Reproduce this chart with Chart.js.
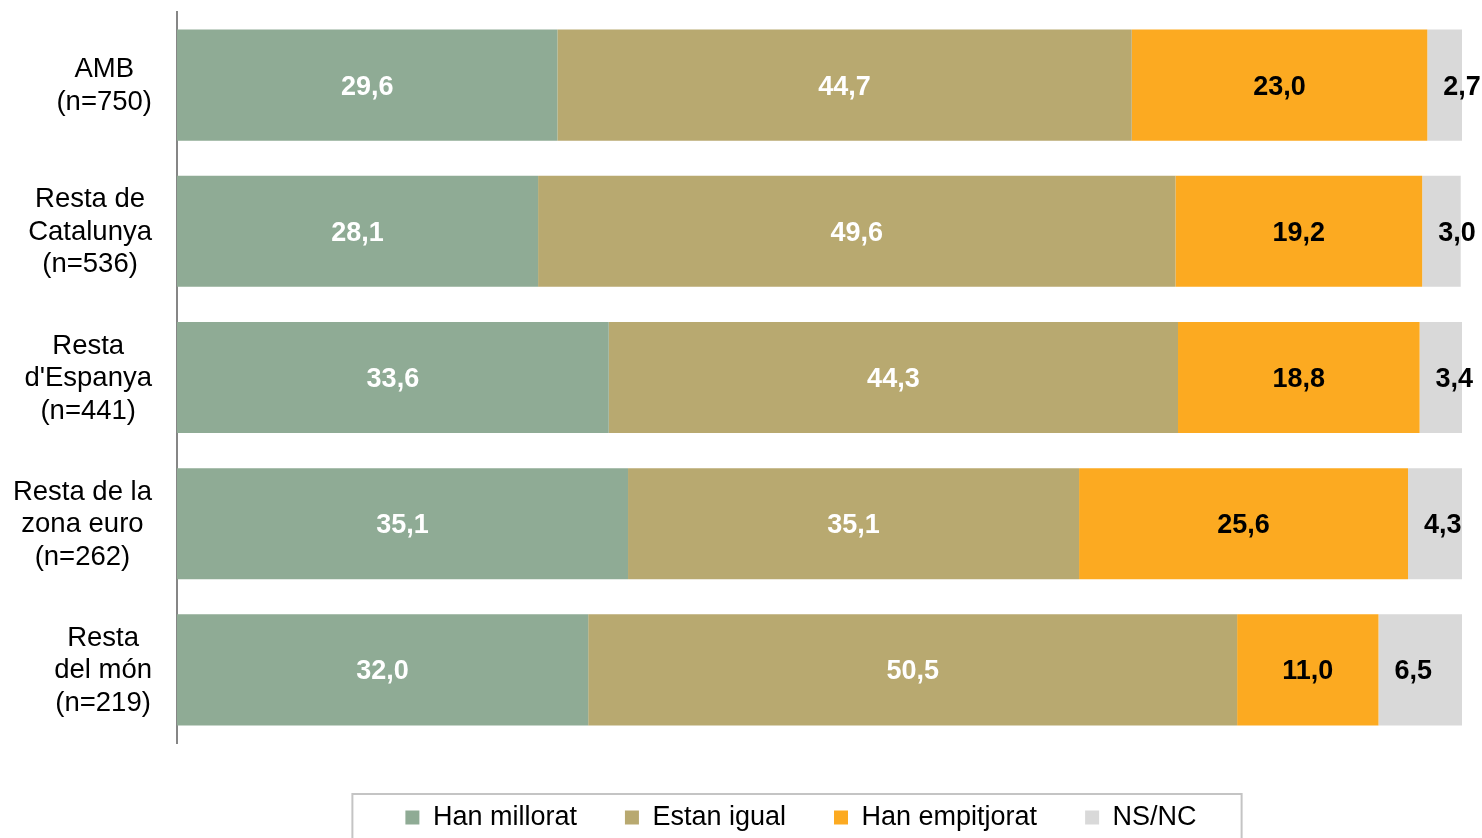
<!DOCTYPE html>
<html>
<head>
<meta charset="utf-8">
<script src="https://cdn.jsdelivr.net/npm/chart.js@4"></script>
<style>
html, body { margin: 0; padding: 0; background: #fff; }
</style>
</head>
<body>
<canvas id="barChart" width="1482" height="838"></canvas>
<script>
const barChart = document.getElementById('barChart');

const categories = [
	['AMB', '(n=750)'],
	['Resta de', 'Catalunya', '(n=536)'],
	['Resta', "d'Espanya", '(n=441)'],
	['Resta de la', 'zona euro', '(n=262)'],
	['Resta', 'del món', '(n=219)'],
];
const seriesNames = ['Han millorat', 'Estan igual', 'Han empitjorat', 'NS/NC'];
const hanMillorat = [29.6, 28.1, 33.6, 35.1, 32.0];
const estanIgual = [44.7, 49.6, 44.3, 35.1, 50.5];
const hanEmpitjorat = [23.0, 19.2, 18.8, 25.6, 11.0];
const nsnc = [2.7, 3.0, 3.4, 4.3, 6.5];

const colors = ['#8FAB95', '#B8A970', '#FCAA21', '#D9D9D9'];
const labelColors = ['#fff', '#fff', '#000', '#000'];
const fontFamily = "'Liberation Sans', Arial, sans-serif";

const fmt = (v) => v.toFixed(1).replace('.', ',');

// category labels: block right-aligned, lines centered inside the block
const categoryLabels = {
	id: 'categoryLabels',
	afterDraw(chart) {
		const ctx = chart.ctx;
		const yScale = chart.scales.y;
		ctx.save();
		ctx.font = '27.5px ' + fontFamily;
		ctx.fillStyle = '#000';
		ctx.textAlign = 'center';
		ctx.textBaseline = 'middle';
		const lineH = 32.5;
		categories.forEach((lines, i) => {
			const y = yScale.getPixelForValue(i) + 1;
			const maxW = Math.max(...lines.map((l) => ctx.measureText(l).width));
			const cx = 152 - maxW / 2;
			lines.forEach((l, j) => {
				ctx.fillText(l, cx, y + (j - (lines.length - 1) / 2) * lineH);
			});
		});
		ctx.restore();
	},
};

// values inside the segments
const valueLabels = {
	id: 'valueLabels',
	afterDatasetsDraw(chart) {
		const ctx = chart.ctx;
		ctx.save();
		ctx.font = 'bold 27px ' + fontFamily;
		ctx.textBaseline = 'middle';
		chart.data.datasets.forEach((ds, d) => {
			const meta = chart.getDatasetMeta(d);
			ctx.fillStyle = labelColors[d];
			meta.data.forEach((bar, i) => {
				const txt = fmt(ds.data[i]);
				const y = bar.y + 2;
				if (d === 3) {
					ctx.textAlign = 'left';
					ctx.fillText(txt, bar.base + 16, y);
				} else {
					ctx.textAlign = 'center';
					ctx.fillText(txt, (bar.x + bar.base) / 2, y);
				}
			});
		});
		ctx.restore();
	},
};

// frame round the legend
const legendFrame = {
	id: 'legendFrame',
	afterDraw(chart) {
		const hb = chart.legend.legendHitBoxes;
		if (!hb || !hb.length) return;
		const last = hb[hb.length - 1];
		const left = hb[0].left - 53;
		const right = last.left + last.width + 45;
		const top = hb[0].top - 10;
		const ctx = chart.ctx;
		ctx.save();
		ctx.strokeStyle = '#C4C4C4';
		ctx.lineWidth = 2;
		ctx.strokeRect(left, top, right - left, chart.height + 10 - top);
		ctx.restore();
	},
};

const newBarChart = new Chart(barChart, {
	type: 'bar',
	data: {
		labels: categories.map((c) => c.join(' ')),
		datasets: [hanMillorat, estanIgual, hanEmpitjorat, nsnc].map((vals, i) => ({
			label: seriesNames[i],
			data: vals,
			backgroundColor: colors[i],
			borderWidth: 0,
			barPercentage: 0.76,
			categoryPercentage: 1,
		})),
	},
	options: {
		indexAxis: 'y',
		responsive: false,
		animation: false,
		layout: {
			padding: { top: 12, right: 20, bottom: -3, left: 140 },
		},
		scales: {
			x: {
				stacked: true,
				min: 0,
				max: 100,
				ticks: { display: false },
				grid: { display: false },
				border: { display: false },
				afterFit: (scale) => { scale.height = 13; },
			},
			y: {
				stacked: true,
				ticks: { display: false },
				grid: { display: false },
				border: { display: true, color: '#868686', width: 2 },
				afterFit: (scale) => { scale.width = 37; },
			},
		},
		plugins: {
			legend: {
				position: 'bottom',
				labels: {
					boxWidth: 14,
					boxHeight: 14,
					padding: 48,
					color: '#000',
					font: { family: fontFamily, size: 27 },
				},
			},
			tooltip: { enabled: false },
		},
	},
	plugins: [categoryLabels, valueLabels, legendFrame],
});
</script>
</body>
</html>
